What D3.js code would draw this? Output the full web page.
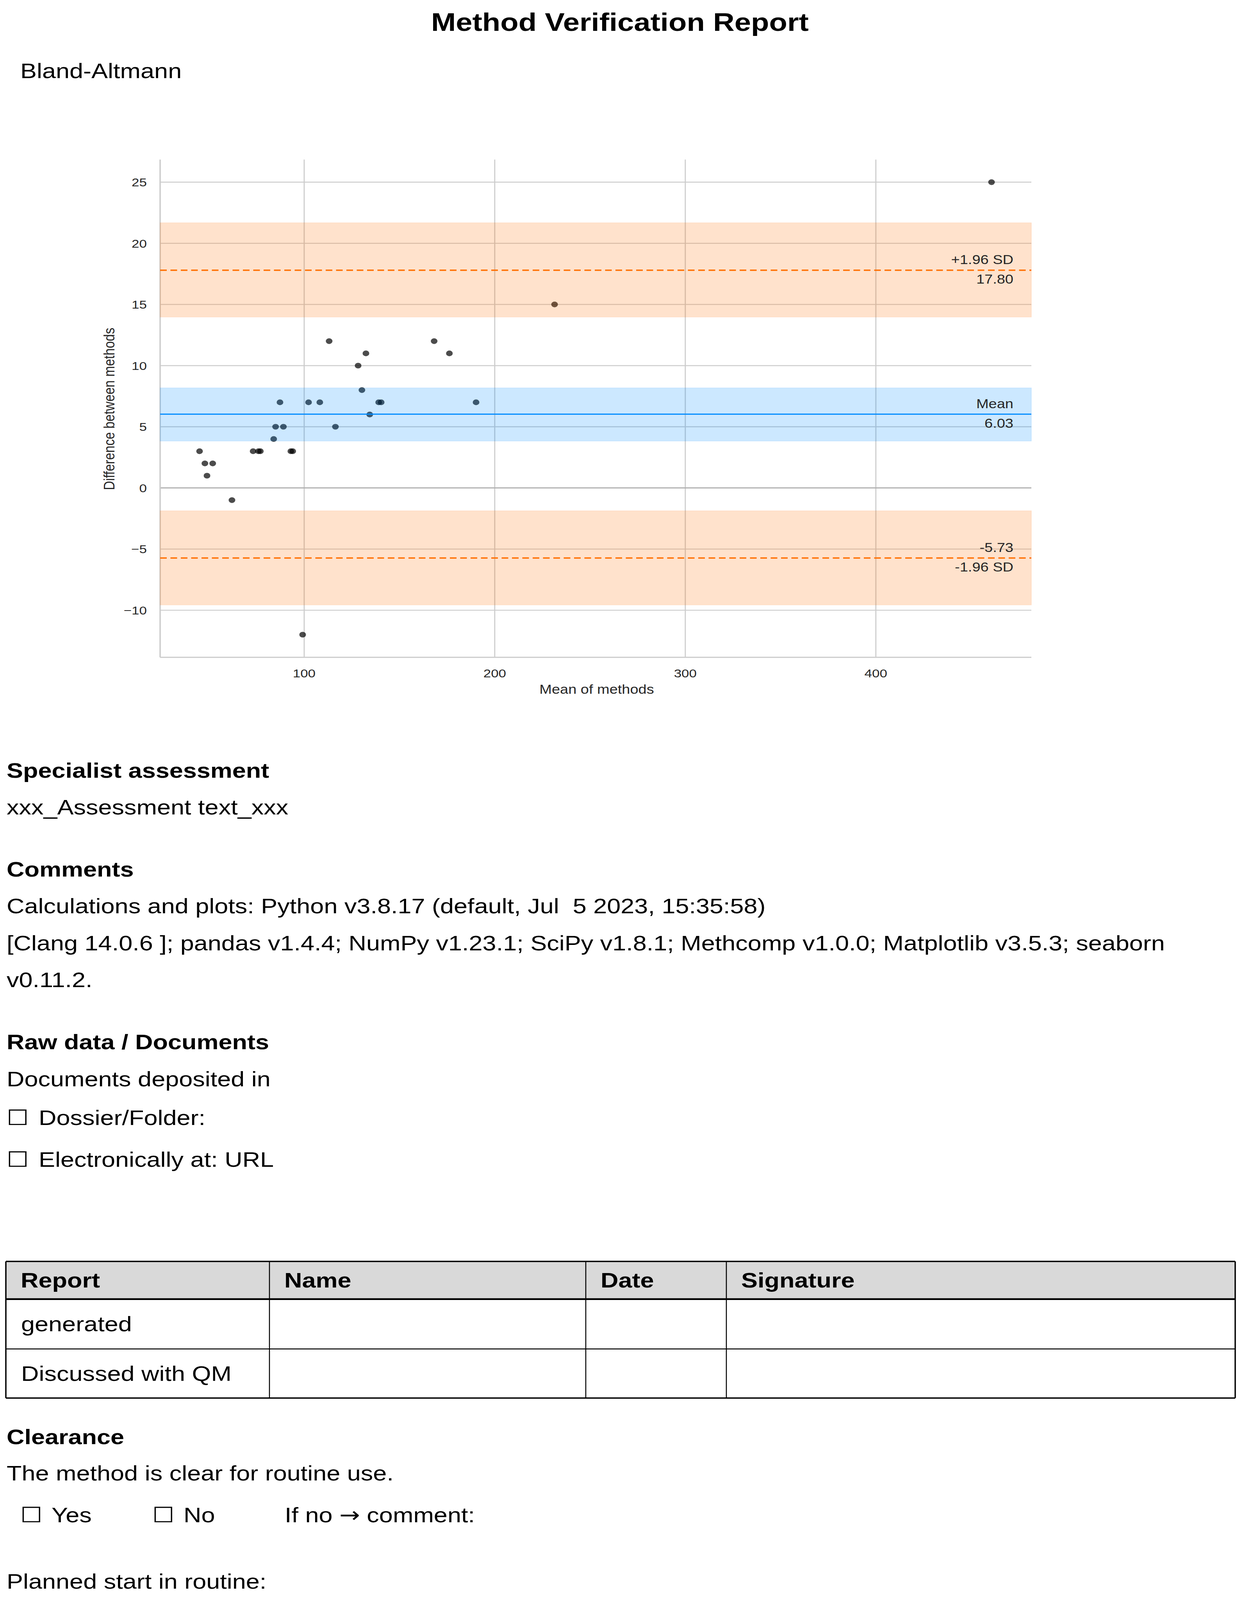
<!DOCTYPE html>
<html>
<head>
<meta charset="utf-8">
<script src="https://cdn.jsdelivr.net/npm/d3@7"></script>
<style>
  html, body { margin: 0; padding: 0; background: #fff; overflow: hidden; }
  svg { display: block; }
  text { font-family: "Liberation Sans", Arial, "DejaVu Sans", sans-serif; white-space: pre; }
</style>
</head>
<body>
<div id="container"></div>
<script>
// chart data
const meanOfMethods = [45.1, 47.9, 52.0, 49.0, 73.2, 76.0, 77.0, 84.0, 85.0, 89.1,
                       87.3, 93.0, 94.0, 102.3, 108.2, 113.1, 116.4, 128.3, 130.3, 132.4,
                       134.4, 139.1, 140.4, 168.2, 176.2, 190.2, 231.4, 460.7, 62.1, 99.2];
const diffBetween = [3, 2, 2, 1, 3, 3, 3, 4, 5, 5,
                     7, 3, 3, 7, 7, 12, 5, 10, 8, 11,
                     6, 7, 7, 12, 11, 7, 15, 25, -1, -12];
const xTicks = [100, 200, 300, 400];
const yTicks = [-10, -5, 0, 5, 10, 15, 20, 25];

// limits of agreement + mean, with their confidence bands
const statKeys = ["upper", "mean", "lower"];
const statValues = [17.80, 6.03, -5.73];
const statTextAbove = ["+1.96 SD", "Mean", "-5.73"];
const statTextBelow = ["17.80", "6.03", "-1.96 SD"];
const ciLow = [13.97, 3.83, -9.57];
const ciHigh = [21.68, 8.18, -1.87];

// page is laid out on a 3206 x 4754 sheet and fitted to the window
const W = 3206, H = 4754;
const vw = window.innerWidth || W, vh = window.innerHeight || H;
const orange = "#ff7000", blue = "#008bff", ink = "#262626";

const svg = d3.select("div#container").append("svg")
    .attr("width", vw).attr("height", vh)
    .attr("viewBox", `0 0 ${W} ${H}`)
    .attr("preserveAspectRatio", "none");

// ---- header
svg.append("text").text("Method Verification Report")
    .attr("x", 1104).attr("y", 92)
    .attr("font-size", 76).attr("font-weight", "bold");

svg.append("text").text("Bland-Altmann")
    .attr("x", 52).attr("y", 232).attr("font-size", 63);

// ---- Bland-Altman plot
const plot = { left: 410, right: 2641, top: 474, bottom: 1953 };
const x = d3.scaleLinear().domain([24.4, 481.6]).range([plot.left, plot.right]);
const y = d3.scaleLinear().domain([-13.85, 26.85]).range([plot.bottom, plot.top]);

const chart = svg.append("g");

// grid
chart.selectAll("line.xgrid").data(xTicks).enter().append("line")
    .attr("x1", d => x(d)).attr("x2", d => x(d))
    .attr("y1", plot.top).attr("y2", plot.bottom)
    .attr("stroke", "#cccccc").attr("stroke-width", 2.8);

chart.selectAll("line.ygrid").data(yTicks.filter(d => d !== 0)).enter().append("line")
    .attr("x1", plot.left).attr("x2", plot.right)
    .attr("y1", d => y(d)).attr("y2", d => y(d))
    .attr("stroke", "#cccccc").attr("stroke-width", 2.8);

// zero reference
chart.append("line")
    .attr("x1", plot.left).attr("x2", plot.right)
    .attr("y1", y(0)).attr("y2", y(0))
    .attr("stroke", "#b0b0b0").attr("stroke-width", 3.6);

// spines (left, bottom)
chart.append("line")
    .attr("x1", plot.left).attr("x2", plot.left)
    .attr("y1", plot.top).attr("y2", plot.bottom)
    .attr("stroke", "#cccccc").attr("stroke-width", 3.6);
chart.append("line")
    .attr("x1", plot.left).attr("x2", plot.right)
    .attr("y1", plot.bottom).attr("y2", plot.bottom)
    .attr("stroke", "#cccccc").attr("stroke-width", 3.6);

// points
const pts = meanOfMethods.map((m, i) => ({ m: m, d: diffBetween[i] }));
chart.selectAll("circle.pt").data(pts).enter().append("circle")
    .attr("cx", d => x(d.m)).attr("cy", d => y(d.d)).attr("r", 8.5)
    .attr("fill", "#000").attr("fill-opacity", 0.7);

// confidence bands (drawn over the points, like the original)
chart.selectAll("rect.band").data(statKeys).enter().append("rect")
    .attr("x", plot.left).attr("width", plot.right - plot.left)
    .attr("y", (d, i) => y(ciHigh[i]))
    .attr("height", (d, i) => y(ciLow[i]) - y(ciHigh[i]))
    .attr("fill", d => d === "mean" ? blue : orange)
    .attr("fill-opacity", 0.2)
    .attr("stroke", d => d === "mean" ? blue : orange)
    .attr("stroke-opacity", 0.1).attr("stroke-width", 2);

// mean and limit lines
chart.selectAll("line.stat").data(statKeys).enter().append("line")
    .attr("x1", plot.left).attr("x2", plot.right)
    .attr("y1", (d, i) => y(statValues[i])).attr("y2", (d, i) => y(statValues[i]))
    .attr("stroke", d => d === "mean" ? blue : orange)
    .attr("stroke-width", d => d === "mean" ? 3.6 : 4)
    .attr("stroke-dasharray", d => d === "mean" ? null : "17,9.5");

// labels on the lines
chart.selectAll("text.above").data(statKeys).enter().append("text")
    .text((d, i) => statTextAbove[i])
    .attr("x", 2595).attr("y", (d, i) => y(statValues[i]) - 18)
    .attr("text-anchor", "end").attr("font-size", 38).attr("fill", ink);
chart.selectAll("text.below").data(statKeys).enter().append("text")
    .text((d, i) => statTextBelow[i])
    .attr("x", 2595).attr("y", (d, i) => y(statValues[i]) + 40)
    .attr("text-anchor", "end").attr("font-size", 38).attr("fill", ink);

// tick labels
const fmt = d => d < 0 ? "\u2212" + Math.abs(d) : String(d);
chart.selectAll("text.ytick").data(yTicks).enter().append("text")
    .text(fmt)
    .attr("x", 376).attr("y", d => y(d)).attr("dy", "0.36em")
    .attr("text-anchor", "end").attr("font-size", 35).attr("fill", ink);
chart.selectAll("text.xtick").data(xTicks).enter().append("text")
    .text(fmt)
    .attr("x", d => x(d)).attr("y", 2012)
    .attr("text-anchor", "middle").attr("font-size", 35).attr("fill", ink);

// axis titles
chart.append("text").text("Mean of methods")
    .attr("x", 1528).attr("y", 2061)
    .attr("text-anchor", "middle").attr("font-size", 38).attr("fill", ink);
chart.append("text").text("Difference between methods")
    .attr("transform", "translate(293,1215) rotate(-90)")
    .attr("text-anchor", "middle").attr("font-size", 38).attr("fill", ink);

// ---- report text
const fs = 63;
function line(txt, xx, yy, bold) {
    return svg.append("text").text(txt)
        .attr("x", xx).attr("y", yy).attr("font-size", fs)
        .attr("font-weight", bold ? "bold" : null);
}
function box(xx, yy) {
    return svg.append("text").text("\u2610")
        .attr("x", xx).attr("y", yy).attr("font-size", fs)
        .style("font-family", "'DejaVu Sans', sans-serif");
}

line("Specialist assessment", 17, 2311, true);
line("xxx_Assessment text_xxx", 17, 2420);

line("Comments", 17, 2604, true);
line("Calculations and plots: Python v3.8.17 (default, Jul  5 2023, 15:35:58)", 17, 2714);
line("[Clang 14.0.6 ]; pandas v1.4.4; NumPy v1.23.1; SciPy v1.8.1; Methcomp v1.0.0; Matplotlib v3.5.3; seaborn", 17, 2824);
line("v0.11.2.", 17, 2933);

line("Raw data / Documents", 17, 3118, true);
line("Documents deposited in", 17, 3228);
box(17, 3343); line("Dossier/Folder:", 99, 3343);
box(17, 3467); line("Electronically at: URL", 99, 3467);

// ---- sign-off table
const colEdges = [15, 690, 1500, 1860, 3163];
const headers = ["Report", "Name", "Date", "Signature"];
const rowLabels = ["generated", "Discussed with QM"];
const rowEdges = [3748, 3860, 4008, 4154];

const tbl = svg.append("g");
tbl.append("rect")
    .attr("x", colEdges[0]).attr("y", rowEdges[0])
    .attr("width", colEdges[4] - colEdges[0]).attr("height", rowEdges[1] - rowEdges[0])
    .attr("fill", "#d9d9d9");

tbl.selectAll("line.col").data(colEdges).enter().append("line")
    .attr("x1", d => d).attr("x2", d => d)
    .attr("y1", rowEdges[0]).attr("y2", rowEdges[3])
    .attr("stroke", "#000").attr("stroke-width", (d, i) => (i === 0 || i === 4) ? 3.5 : 2.5);
tbl.selectAll("line.row").data(rowEdges).enter().append("line")
    .attr("x1", colEdges[0]).attr("x2", colEdges[4])
    .attr("y1", d => d).attr("y2", d => d)
    .attr("stroke", "#000").attr("stroke-width", (d, i) => i === 1 ? 5 : (i === 2 ? 3 : 4));

tbl.selectAll("text.hdr").data(headers).enter().append("text")
    .text(d => d)
    .attr("x", (d, i) => colEdges[i] + 38).attr("y", 3826)
    .attr("font-size", fs).attr("font-weight", "bold");
tbl.selectAll("text.rowlab").data(rowLabels).enter().append("text")
    .text(d => d)
    .attr("x", colEdges[0] + 39).attr("y", (d, i) => [3955, 4103][i])
    .attr("font-size", fs);

// ---- clearance
line("Clearance", 17, 4291, true);
line("The method is clear for routine use.", 17, 4399);
box(52, 4523); line("Yes", 132, 4523);
box(390, 4523); line("No", 470, 4523);
const ifNo = line("If no ", 729, 4523);
ifNo.append("tspan").text("\u2192").style("font-family", "'DejaVu Sans', sans-serif");
ifNo.append("tspan").text(" comment:");
line("Planned start in routine:", 17, 4720);
</script>
</body>
</html>
